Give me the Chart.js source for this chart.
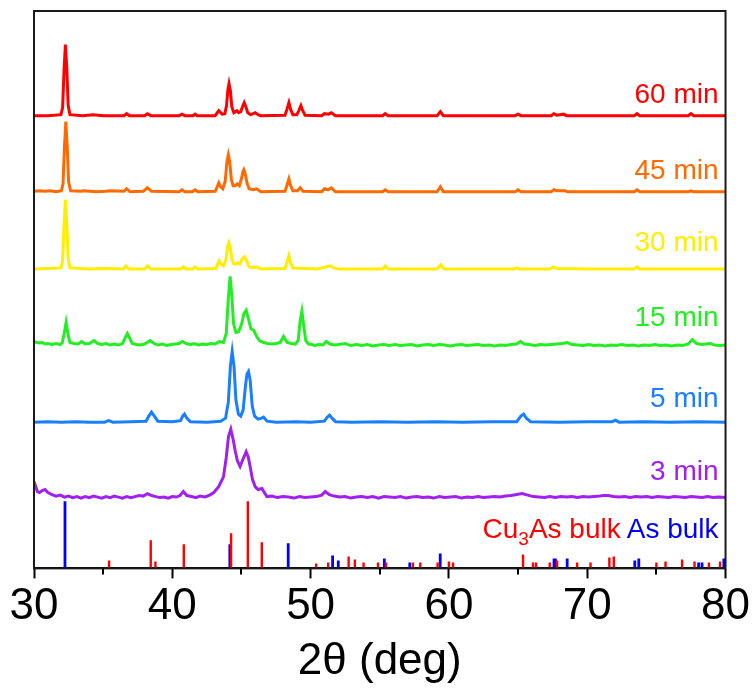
<!DOCTYPE html>
<html>
<head>
<meta charset="utf-8">
<script src="https://cdn.jsdelivr.net/npm/chart.js@4.4.1/dist/chart.umd.min.js"></script>
<style>
  html, body { margin: 0; padding: 0; background: #fff; }
  #wrap { width: 752px; height: 690px; }
</style>
</head>
<body>
<div id="wrap"><canvas id="xrd" width="752" height="690"></canvas></div>
<script>
// sample names, top to bottom
const runNames = ['60 min', '45 min', '30 min', '15 min', '5 min', '3 min'];
// vertical stacking offset of each pattern (same units as intensity)
const offsets = [452, 376, 299, 222.5, 146, 70.7];

// measured patterns: [2theta, intensity above own baseline]
const t60 = [[30,0],[31,0],[31.95,1],[32.07,8],[32.17,45],[32.27,71],[32.37,48],[32.47,10],[32.6,1],[33.5,0],[34.3,1],[35,0],[36.5,0],[36.7,2],[36.9,0],[38.0,0],[38.2,2],[38.45,0],[40.5,0],[40.7,1.5],[40.9,0],[41.5,0],[41.65,1.5],[41.8,0],[43.1,0],[43.36,5],[43.6,1.5],[43.8,2],[43.92,10],[44.02,26],[44.1,32],[44.2,25],[44.3,9],[44.45,3],[44.57,4],[44.67,5],[44.8,3],[44.95,4],[45.08,9],[45.2,13],[45.32,9],[45.45,3],[45.65,1],[45.85,2],[46.0,3],[46.2,1],[46.4,0],[48.15,0.5],[48.28,6],[48.43,13],[48.56,6],[48.72,1],[49.0,1],[49.15,5],[49.3,10],[49.43,5],[49.6,0.5],[50.8,0],[51.0,2],[51.3,1.5],[51.5,3],[51.8,0],[55.2,0],[55.4,2],[55.6,0],[59.15,0],[59.38,4],[59.6,0],[64.8,0],[65.0,1.5],[65.2,0],[67.4,0],[67.58,2],[67.8,0.5],[68.3,1.5],[68.5,0],[73.4,0],[73.6,2],[73.8,0],[77.3,0],[77.5,2],[77.7,0],[80,0]];

const t45 = [[30,0.5],[30.4,1],[30.8,0.5],[31.2,1],[31.6,0],[31.98,1],[32.1,8],[32.2,44],[32.3,70],[32.4,46],[32.5,10],[32.65,1],[33.4,0.5],[33.6,1],[34.5,0],[35.2,0.5],[35.5,1],[36.5,0.5],[36.7,3],[36.95,0],[37.9,0.5],[38.2,4],[38.5,0.5],[40.5,0],[40.7,2],[40.9,0],[41.45,0],[41.65,2],[41.85,0],[43.1,0.5],[43.25,5],[43.36,9],[43.5,5],[43.65,3],[43.82,10],[43.95,30],[44.05,37],[44.15,30],[44.27,12],[44.4,6],[44.55,6],[44.7,8],[44.85,6],[45.0,13],[45.1,20],[45.17,22],[45.27,18],[45.4,9],[45.55,3],[45.85,2],[46.1,3],[46.4,0],[48.15,0.5],[48.28,6],[48.43,13],[48.56,6],[48.72,1],[49.05,1],[49.25,4],[49.45,0.5],[50.8,0],[51.0,3],[51.25,2],[51.5,4],[51.8,0],[55.2,0],[55.4,2],[55.6,0],[59.15,0],[59.38,5],[59.6,0],[64.8,0],[65.0,2],[65.2,0],[67.4,0],[67.6,2],[67.8,1],[68.4,1],[68.6,0],[73.4,0],[73.6,2],[73.8,0],[77.3,0],[77.5,1],[77.7,0],[80,0]];

const t30 = [[30,0],[31,0.5],[31.95,1],[32.07,8],[32.17,44],[32.27,69],[32.37,46],[32.47,10],[32.6,1],[34,0],[35,0.5],[36.45,0],[36.65,3],[36.85,0],[38.0,0],[38.2,3],[38.45,0],[40.6,0],[40.8,2],[41.0,0],[41.5,0],[41.65,2],[41.85,0],[43.15,0.5],[43.28,5],[43.39,8],[43.52,5],[43.7,3],[43.88,9],[44.0,22],[44.09,26],[44.2,21],[44.32,9],[44.45,5],[44.6,5],[44.72,6],[44.88,5],[45.05,10],[45.22,12],[45.38,8],[45.55,2],[45.85,1.5],[46.1,2],[46.4,0],[48.15,0.5],[48.28,6],[48.43,13.4],[48.56,6],[48.72,1],[50.5,0],[51.1,2],[51.42,3],[51.7,1],[52,0],[55.2,0],[55.4,3],[55.6,0],[59.15,0],[59.4,4],[59.65,0],[64.7,0],[64.93,1],[65.1,0],[67.3,0],[67.53,2],[67.8,0.5],[70,0],[73.4,0],[73.6,2],[73.8,0],[80,0]];

const t15 = [[30,4],[30.2,3],[30.4,2.5],[30.6,3],[30.8,1.5],[31.0,2],[31.3,1],[31.6,2],[31.9,1],[32.05,3],[32.18,12],[32.32,23],[32.45,12],[32.6,3],[32.9,2],[33.2,1.5],[33.45,4],[33.7,1.5],[34.0,2],[34.34,5],[34.6,2],[34.9,1],[35.2,2],[35.5,0.5],[35.8,1.5],[36.1,0.5],[36.4,2],[36.6,8],[36.75,12],[36.9,8],[37.1,2],[37.4,1],[37.7,0.5],[38.0,1.5],[38.4,5],[38.7,2],[39.0,0.5],[39.3,1.5],[39.6,0],[39.9,1],[40.2,1.5],[40.5,2],[40.73,4],[41.0,2],[41.3,1],[41.6,2],[41.9,0.5],[42.2,1.5],[42.5,1],[42.8,2],[43.1,1.5],[43.4,4],[43.7,3],[43.9,12],[44.04,45],[44.18,69],[44.3,50],[44.43,22],[44.6,13],[44.8,14],[45.0,21],[45.18,32],[45.34,35],[45.5,27],[45.68,17],[45.9,15],[46.1,9],[46.3,5],[46.6,3],[46.9,2],[47.2,1.5],[47.5,2],[47.8,3],[48.04,9],[48.3,3],[48.6,2],[48.9,1.5],[49.1,5],[49.24,24],[49.37,34],[49.5,20],[49.65,5],[49.85,1.5],[50.1,1],[50.3,0],[50.6,1],[50.9,0.5],[51.13,4],[51.4,1.5],[51.7,0.5],[52.0,1],[52.5,2],[52.9,0],[53.3,1],[53.7,0],[54.1,1],[54.5,-0.5],[54.9,0.5],[55.3,1],[55.7,0],[56.1,1],[56.5,0],[56.9,0.5],[57.3,1],[57.7,-0.5],[58.1,0.5],[58.5,1],[58.9,0],[59.3,1],[59.7,0.5],[60.1,-0.5],[60.5,0.5],[60.9,1],[61.3,0],[61.7,0.5],[62.1,1],[62.5,0],[62.9,0.5],[63.3,-0.5],[63.7,0.5],[64.1,0],[64.5,1],[64.9,1.5],[65.17,4],[65.45,1.5],[65.8,1],[66.2,0],[66.6,1],[67.0,0.5],[67.4,1],[67.8,1.5],[68.2,2],[68.55,3],[68.9,1],[69.3,0.5],[69.7,0],[70.1,1],[70.5,0],[70.9,0.5],[71.3,-0.5],[71.7,0.5],[72.1,0],[72.5,1],[72.9,0],[73.3,0.5],[73.7,-0.5],[74.1,0.5],[74.5,0],[74.9,1],[75.3,0],[75.7,0.5],[76.1,-0.5],[76.5,0.5],[76.9,0],[77.3,1.5],[77.6,6],[77.9,2],[78.3,1],[78.6,1.5],[78.9,2],[79.2,0.5],[79.6,0],[80,0.5]];

const t5 = [[30,0],[31,0.5],[32,0],[33,0.5],[34,0],[35.1,0],[35.4,1.5],[35.7,0],[37,0.5],[38.1,1],[38.3,6],[38.5,10],[38.7,6],[38.95,1],[40.0,0.5],[40.6,1.5],[40.75,6],[40.88,8],[41.05,4],[41.3,0.5],[42.5,0],[43.5,1],[43.85,4],[44.05,20],[44.2,56],[44.33,70.6],[44.46,56],[44.6,22],[44.78,8],[44.95,6],[45.12,12],[45.28,35],[45.4,48],[45.51,50.6],[45.63,42],[45.78,16],[45.95,6],[46.2,3],[46.45,4],[46.6,5],[46.85,1],[47.5,0],[49,0.5],[50,0],[51.0,1],[51.2,5],[51.37,7],[51.55,4],[51.8,0.5],[53,0],[55,0.5],[57,0],[59,0.5],[61,0],[63,0.5],[64.9,0.5],[65.2,6],[65.4,8],[65.6,4],[65.9,0.5],[68,0],[70,0.5],[71.8,0.5],[72.05,2],[72.3,0],[74,0.5],[76,0],[78,0.5],[80,0]];

const t3 = [[30,16],[30.1,12],[30.25,6],[30.4,5],[30.6,7],[30.8,8],[31.0,5],[31.3,3],[31.6,1.5],[31.9,2.5],[32.2,0.5],[32.5,1.5],[32.8,0],[33.1,1],[33.4,-0.5],[33.7,1],[34.0,0],[34.3,1.5],[34.6,0.5],[34.9,-0.5],[35.2,1],[35.5,0],[35.8,1.5],[36.1,0.5],[36.4,-0.5],[36.7,1],[37.0,0],[37.3,1],[37.6,2],[37.9,1.5],[38.2,4],[38.5,2],[38.8,1],[39.1,0],[39.4,0.5],[39.7,-0.5],[40.0,1],[40.3,0.5],[40.55,2],[40.8,6],[41.05,2],[41.4,1],[41.7,0],[42.0,1.5],[42.37,0.7],[42.7,2.5],[43.0,5],[43.34,10.7],[43.7,20.7],[43.9,40],[44.06,60.7],[44.23,68.3],[44.4,58],[44.54,47.3],[44.7,37],[44.9,31],[45.1,38],[45.34,45.7],[45.5,40],[45.63,30.7],[45.8,18],[46.0,10.7],[46.2,8],[46.48,9],[46.84,1],[47.2,1.5],[47.6,0],[48.0,1],[48.4,0.5],[48.8,-0.5],[49.2,1],[49.6,0],[50.0,0.5],[50.4,1],[50.8,2.5],[51.06,6],[51.35,3],[51.7,1.5],[52.1,0.5],[52.5,1],[52.9,-0.5],[53.3,0.5],[53.7,1],[54.1,0],[54.5,1],[54.9,-0.5],[55.3,1],[55.7,0.5],[56.1,0],[56.5,1],[56.9,-0.5],[57.3,0.5],[57.7,1],[58.1,0],[58.5,0.5],[58.9,-0.5],[59.3,1],[59.7,0],[60.1,0.5],[60.5,1],[60.9,-0.5],[61.3,0.5],[61.7,0],[62.1,1],[62.5,0],[62.9,0.5],[63.3,1],[63.7,0.5],[64.1,1.5],[64.5,2],[64.9,3],[65.3,4],[65.7,2.5],[66.1,1],[66.5,0.5],[66.9,0],[67.3,1],[67.7,0],[68.1,1],[68.5,0.5],[68.9,1],[69.3,0],[69.7,1],[70.1,0.5],[70.5,1],[70.9,1.5],[71.2,2],[71.5,2],[71.9,1],[72.3,0.5],[72.7,1],[73.1,0],[73.5,1],[73.9,0.5],[74.3,1],[74.7,0],[75.1,1],[75.5,0.5],[75.9,0],[76.3,1],[76.7,0.5],[77.1,0],[77.5,1],[77.9,0.5],[78.3,0],[78.7,1],[79.1,0],[79.5,0.5],[80,0]];

const patterns = [t60, t45, t30, t15, t5, t3];

// reference cards: peak positions and relative heights
const cu3asPos = [35.43, 38.44, 38.78, 40.83, 44.25, 45.46, 46.47, 50.4, 51.27, 52.75, 53.2, 53.83, 54.87, 55.45, 57.4, 57.93, 59.18, 60.0, 60.3, 65.36, 66.08, 66.3, 67.29, 67.82, 69.27, 70.24, 71.6, 71.92, 75.0, 75.66, 76.86, 77.76, 78.8, 79.6];
const cu3asInt = [8, 28, 7, 24, 35, 67, 26, 5, 6, 12, 9, 6, 6, 6, 6, 6, 6, 7, 6, 14, 6, 6, 6, 8, 6, 6, 11, 12, 6, 7, 9, 7, 6, 7];
const asPos = [32.24, 44.16, 48.38, 51.59, 52.0, 55.33, 57.17, 59.37, 67.6, 67.7, 68.55, 73.44, 73.73, 78.05, 78.3, 79.88];
const asInt = [67, 24, 25, 13, 8, 10, 6, 15, 10, 10, 10, 8, 10, 6, 6, 10];

const xTicks = [30, 40, 50, 60, 70, 80];

// styling
const traceColors = ['#ff0000', '#ff6a00', '#ffee00', '#22ee22', '#1a7fff', '#a020f0'];
const labelGaps = [20, 20, 26, 27, 23, 25];
const FONT = '"Liberation Sans", Arial, Helvetica, sans-serif';

function stickData(pos, ints) {
    const pts = [];
    pos.forEach((p, i) => {
        pts.push({x: p, y: 0}, {x: p, y: ints[i]}, {x: p, y: null});
    });
    return pts;
}

const datasets = patterns.map((pat, i) => ({
    label: runNames[i],
    data: pat.map(p => ({x: p[0], y: p[1] + offsets[i]})),
    borderColor: traceColors[i],
    borderWidth: 3,
    pointRadius: 0,
    tension: 0
}));
datasets.push({
    label: 'Cu3As bulk',
    data: stickData(cu3asPos, cu3asInt),
    borderColor: '#ff0000',
    borderWidth: 2.4,
    pointRadius: 0,
    spanGaps: false
});
datasets.push({
    label: 'As bulk',
    data: stickData(asPos, asInt),
    borderColor: '#0000ff',
    borderWidth: 2.8,
    pointRadius: 0,
    spanGaps: false
});

// frame, minor ticks and text labels
const decor = {
    id: 'decor',
    afterDraw(chart) {
        const {ctx, chartArea: a, scales: {x, y}} = chart;
        ctx.save();
        ctx.strokeStyle = '#1a1a1a';
        ctx.lineWidth = 2;
        ctx.strokeRect(a.left, a.top, a.right - a.left, a.bottom - a.top);

        // minor ticks
        ctx.strokeStyle = '#000';
        for (let v = 35; v < 80; v += 10) {
            const px = Math.round(x.getPixelForValue(v));
            ctx.beginPath();
            ctx.moveTo(px, a.bottom);
            ctx.lineTo(px, a.bottom + 6);
            ctx.stroke();
        }

        // sample labels
        ctx.font = '28px ' + FONT;
        ctx.textAlign = 'right';
        ctx.textBaseline = 'middle';
        const right = a.right - 7;
        runNames.forEach((name, i) => {
            ctx.fillStyle = traceColors[i];
            ctx.fillText(name, right, y.getPixelForValue(offsets[i] + labelGaps[i]));
        });

        // card labels
        const ly = y.getPixelForValue(38);
        ctx.fillStyle = '#0000ff';
        ctx.fillText('As bulk', right, ly);
        const wAs = ctx.measureText('As bulk').width;
        let end = right - wAs - 6;
        ctx.fillStyle = '#ff0000';
        ctx.fillText('As bulk', end, ly);
        end -= ctx.measureText('As bulk').width;
        ctx.font = '19px ' + FONT;
        ctx.fillText('3', end, ly + 9);
        end -= ctx.measureText('3').width;
        ctx.font = '28px ' + FONT;
        ctx.fillText('Cu', end, ly);
        ctx.restore();
    }
};

new Chart(document.getElementById('xrd'), {
    type: 'line',
    data: { datasets: datasets },
    options: {
        responsive: false,
        animation: false,
        layout: { padding: { left: 34, right: 26, top: 11, bottom: 0 } },
        plugins: {
            legend: { display: false },
            tooltip: { enabled: false }
        },
        scales: {
            x: {
                type: 'linear',
                min: 30,
                max: 80,
                afterBuildTicks: axis => { axis.ticks = xTicks.map(v => ({value: v})); },
                ticks: {
                    color: '#000',
                    font: { family: FONT, size: 44 },
                    padding: 2,
                    maxRotation: 0
                },
                grid: {
                    drawOnChartArea: false,
                    drawTicks: true,
                    tickLength: 10,
                    tickWidth: 2,
                    tickColor: '#000'
                },
                border: { color: '#000', width: 2 },
                title: {
                    display: true,
                    text: '2θ (deg)',
                    color: '#000',
                    font: { family: FONT, size: 44 },
                    padding: { top: 0, bottom: 2 }
                }
            },
            y: {
                display: false,
                min: 0,
                max: 556.5
            }
        }
    },
    plugins: [decor]
});
</script>
</body>
</html>
